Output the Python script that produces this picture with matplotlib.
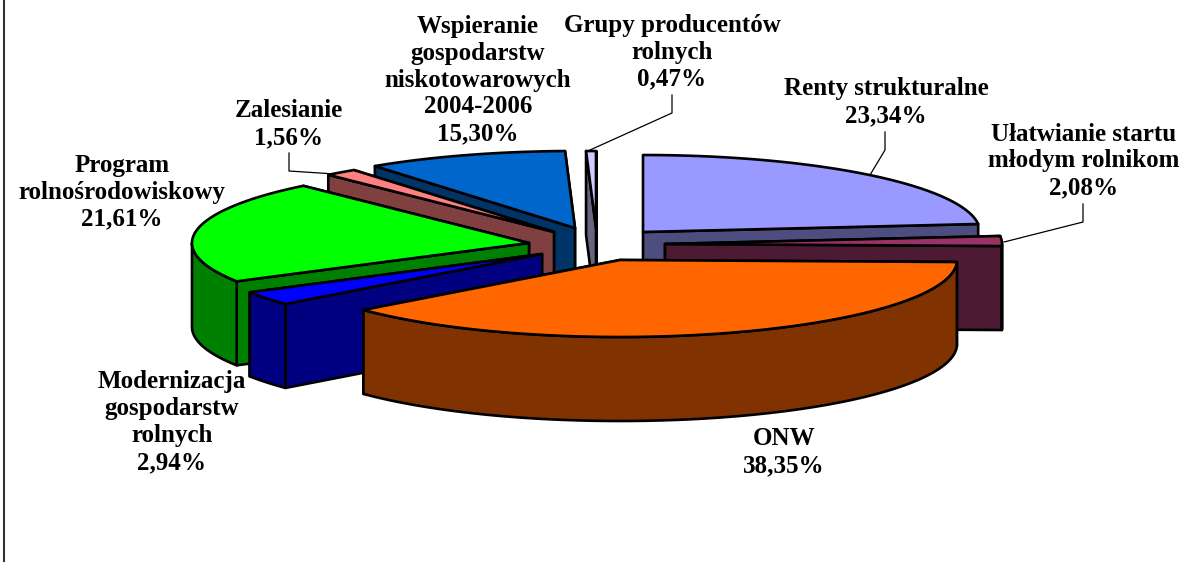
import numpy as np
import matplotlib
matplotlib.use("Agg")
import matplotlib.pyplot as plt
from matplotlib.patches import Polygon

# slice shares actually drawn; the Wspieranie slice is smaller than its printed label
names = ["Renty", "Ulatwianie", "ONW", "Modernizacja", "Program", "Zalesianie", "Wspieranie", "Grupy"]
values = [23.34, 2.08, 38.35, 2.94, 21.61, 1.56, 9.65, 0.47]
labels = [
    "Renty strukturalne\n23,34%",
    "Ułatwianie startu\nmłodym rolnikom\n2,08%",
    "ONW\n38,35%",
    "Modernizacja\ngospodarstw\nrolnych\n2,94%",
    "Program\nrolnośrodowiskowy\n21,61%",
    "Zalesianie\n1,56%",
    "Wspieranie\ngospodarstw\nniskotowarowych\n2004-2006\n15,30%",
    "Grupy producentów\nrolnych\n0,47%",
]

top_colors = ["#9999FF", "#993366", "#FF6600", "#0000FF", "#00FF00", "#FF8080", "#0066CC", "#CCCCFF"]
side_colors = ["#4D4D80", "#4D1A33", "#803300", "#000080", "#008000", "#804040", "#003366", "#666680"]

# exploded slice tips, in image pixels
tips = [(643, 232), (665, 244), (620, 260), (542, 254), (529, 243), (554, 232), (575, 228), (596, 228)]
label_pos = [(886, 102), (1084, 161), (784, 452), (172, 422), (122, 192), (289, 124), (478, 80), (672, 52)]
leaders = [
    [(870, 175), (885, 150), (885, 132)],
    [(1004, 242), (1083, 222), (1083, 204)],
    [(335, 174), (289, 171), (289, 153)],
    [(590, 150), (672, 113), (672, 95)],
]
draw_order = [7, 6, 5, 0, 1, 4, 3, 2]

RX, RY, DEPTH = 337, 77, 84


def arc_points(cx, cy, start, end):
    deg = np.arange(start, end, 0.5).tolist() + [end]
    t = np.radians(deg)
    return np.column_stack([cx + RX * np.sin(t), cy - RY * np.cos(t)])


fig = plt.figure(figsize=(11.87, 5.62), dpi=100)
ax = fig.add_axes([0, 0, 1, 1])
ax.set_xlim(0, 1187)
ax.set_ylim(562, 0)
ax.axis("off")

ax.plot([4, 4], [0, 562], color="#333333", lw=1.5)

edges = np.cumsum([0] + values) / sum(values) * 360

for i in draw_order:
    cx, cy = tips[i]
    start, end = edges[i], edges[i + 1]
    arc = arc_points(cx, cy, start, end)
    tip = np.array([cx, cy])
    drop = np.array([0, DEPTH])
    walls = [np.array([tip, arc[0]]), np.array([tip, arc[-1]])]
    # only the near part of the rim is visible
    vis_start, vis_end = max(start, 90), min(end, 270)
    if vis_end > vis_start:
        walls.append(arc_points(cx, cy, vis_start, vis_end))
    walls.sort(key=lambda w: w[:, 1].mean())
    for w in walls:
        poly = np.vstack([w, (w + drop)[::-1]])
        ax.add_patch(Polygon(poly, fc=side_colors[i], ec="black", lw=1.9, joinstyle="round"))
    ax.add_patch(Polygon(np.vstack([tip, arc]), fc=top_colors[i], ec="black", lw=1.9, joinstyle="round"))

for line in leaders:
    xs, ys = zip(*line)
    ax.plot(xs, ys, color="black", lw=0.9, zorder=20)

for text, (x, y) in zip(labels, label_pos):
    ax.text(x, y, text, ha="center", va="center", family="Liberation Serif", weight="bold",
            fontsize=18, linespacing=1.22, color="black", zorder=30)

fig.savefig("out.png", dpi=100, facecolor="white")
